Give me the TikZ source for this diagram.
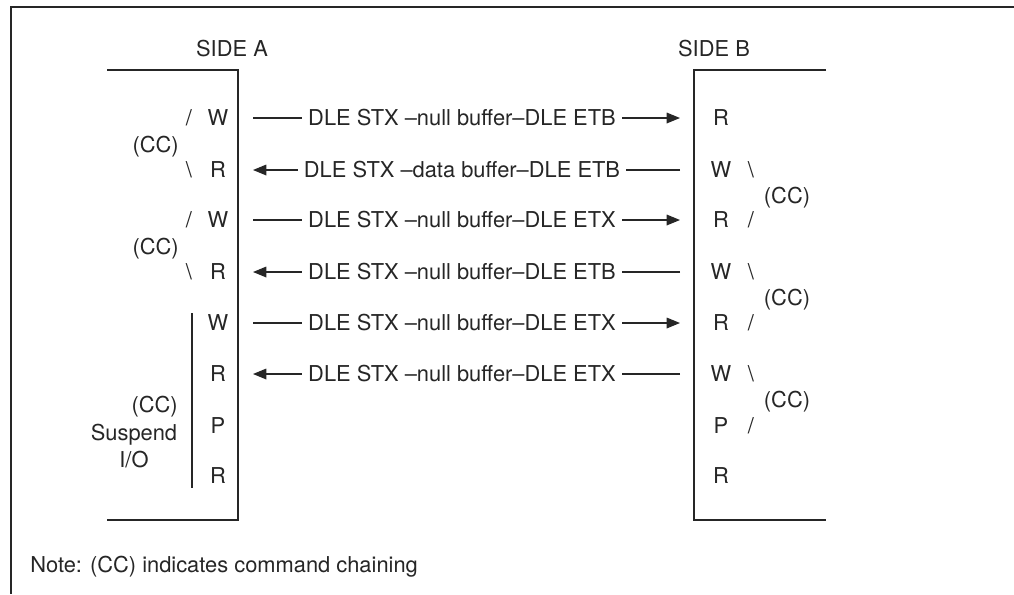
\documentclass[tikz,border=0pt]{standalone}
\usepackage{fontspec}
\setmainfont{TeX Gyre Heros}
\usetikzlibrary{arrows.meta}

\begin{document}
\begin{tikzpicture}[x=0.75pt, y=-0.75pt,
  every node/.style={font=\fontsize{16.4}{19}\selectfont, text=black!85, inner sep=0pt,
    text height=11.8pt, text depth=0pt},
  side/.style={draw=black!85, line width=1.3pt},
  wire/.style={draw=black!85, line width=0.9pt},
  msg/.style={inner xsep=4.5pt},
  tip/.style={-{Triangle[length=10pt, width=8pt]}}]
  \useasboundingbox (0,0) rectangle (1014,594);
  % outer frame
  \draw[wire] (1014,7) -- (11,7) -- (11,594);
  % side A
  \node (sideA) at (232,49) {SIDE A};
  \draw[side] (107,70) -- (238,70) -- (238,520) -- (107,520);
  % side B
  \node (sideB) at (714,49) {SIDE B};
  \draw[side] (826,70) -- (694,70) -- (694,520) -- (826,520);
  % commands on both sides
  \foreach \i/\a/\b/\y in {1/W/R/118, 2/R/W/170, 3/W/R/220, 4/R/W/272,
                           5/W/R/323, 6/R/W/374, 7/P/P/426, 8/R/R/476} {
    \node (a\i) at (218,\y) {\a};
    \node (b\i) at (721,\y) {\b};
  }
  % chaining on side A
  \node (sa1) at (189,118) {/};
  \node (sa2) at (189,170) {\textbackslash};
  \node (sa3) at (189,220) {/};
  \node (sa4) at (189,272) {\textbackslash};
  \node[anchor=east] (ccA1) at (179,145) {(CC)};
  \node[anchor=east] (ccA2) at (179,247) {(CC)};
  \draw[wire] (192,313) -- (192,488);
  \node[anchor=east] (ccA3) at (178,405) {(CC)};
  \node (susp) at (134,433) {Suspend};
  \node (io) at (134,460) {I/O};
  % chaining on side B
  \foreach \i/\s/\y in {2/\textbackslash/170, 3/{/}/220, 4/\textbackslash/272,
                        5/{/}/323, 6/\textbackslash/374, 7/{/}/426} {
    \node (sb\i) at (751,\y) {\s};
  }
  \node (ccB1) at (787,196) {(CC)};
  \node (ccB2) at (787,298) {(CC)};
  \node (ccB3) at (787,400) {(CC)};
  % messages between the sides
  \foreach \i/\y in {1/118, 2/170, 3/220, 4/272, 5/323, 6/374} {
    \coordinate (l\i) at (253,\y);
    \coordinate (r\i) at (680,\y);
  }
  \node[msg] (m1) at (462,118) {DLE STX --null buffer--DLE ETB};
  \node[msg] (m2) at (462,170) {DLE STX --data buffer--DLE ETB};
  \node[msg] (m3) at (462,220) {DLE STX --null buffer--DLE ETX};
  \node[msg] (m4) at (462,272) {DLE STX --null buffer--DLE ETB};
  \node[msg] (m5) at (462,323) {DLE STX --null buffer--DLE ETX};
  \node[msg] (m6) at (462,374) {DLE STX --null buffer--DLE ETX};
  \foreach \i in {1,3,5} {
    \draw[wire] (l\i) -- (m\i);
    \draw[wire, tip] (m\i) -- (r\i);
  }
  \foreach \i in {2,4,6} {
    \draw[wire] (r\i) -- (m\i);
    \draw[wire, tip] (m\i) -- (l\i);
  }
  % note
  \node[anchor=west] (note) at (30,565) {Note: (CC) indicates command chaining};
\end{tikzpicture}
\end{document}
